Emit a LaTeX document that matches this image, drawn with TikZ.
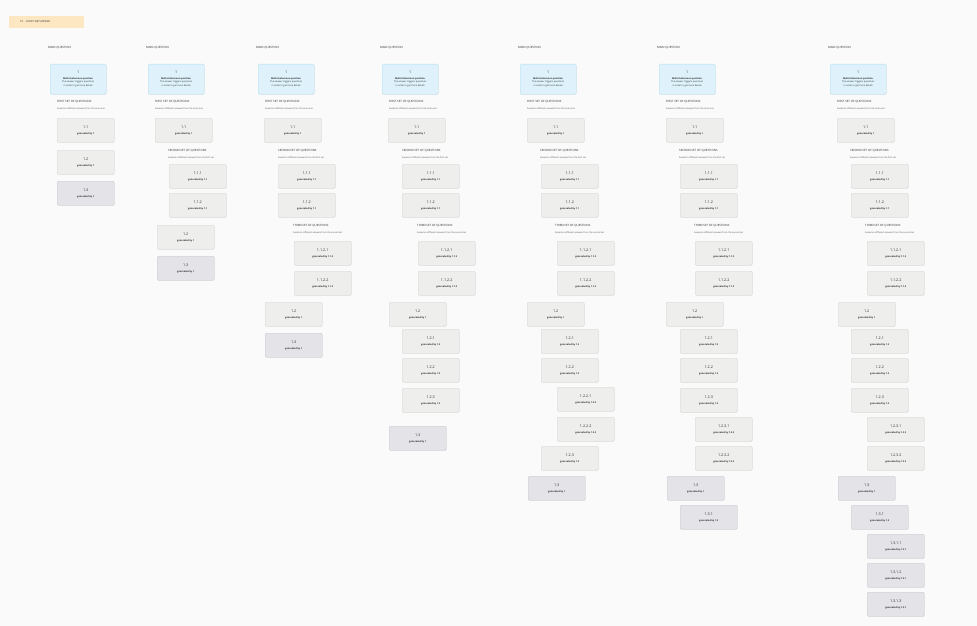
\documentclass[tikz,border=0pt]{standalone}
\usepackage{fontspec}
\setmainfont{Open Sans}
\usetikzlibrary{shadows}
\definecolor{bgc}{HTML}{FAFAFA}
\definecolor{tagc}{HTML}{FCE7C2}
\definecolor{bfill}{HTML}{DFF2FB}
\definecolor{bdraw}{HTML}{B3DDF0}
\definecolor{qfill}{HTML}{EEEEEC}
\definecolor{qdraw}{HTML}{D5D5D3}
\definecolor{dfill}{HTML}{E3E3E8}
\definecolor{ddraw}{HTML}{C8C8CE}
\definecolor{txt}{HTML}{2A2A2A}
\tikzset{
  qbase/.style={draw, rounded corners=1.2pt, minimum width=57pt, minimum height=24pt,
    anchor=north west, align=center, inner sep=0pt, line width=0.4pt, text=txt,
    font=\fontsize{2.3}{3}\selectfont,
    drop shadow={opacity=0.12, shadow xshift=0.3pt, shadow yshift=-0.6pt}},
  qgrey/.style={qbase, fill=qfill, draw=qdraw},
  qdark/.style={qbase, fill=dfill, draw=ddraw},
  qmain/.style={qbase, fill=bfill, draw=bdraw, minimum width=56pt, minimum height=30pt,
    font=\fontsize{2.3}{3.4}\selectfont, drop shadow={opacity=0}},
  headt/.style={anchor=west, inner sep=0pt, text=txt, font=\fontsize{2.9}{3.3}\selectfont},
  subt/.style={anchor=west, inner sep=0pt, text=txt!85, font=\fontsize{2.2}{2.6}\selectfont},
}
\newcommand\qq[6]{\node[#1] (#2) at (#3,#4) {{\fontsize{3.7}{4}\selectfont #5}\\[3pt]{\bfseries #6}};}
\newcommand\mainq[1]{%
  \node[headt] (#1mt) at (0,48) {MAIN QUESTION};
  \node[qmain] (#1m) at (2,64) {{\fontsize{3.6}{4}\selectfont 1}\\[2pt]{\bfseries Multichotomous question.}\\[0.5pt]The answer triggers questions\\[0.5pt]in order to get more details};
  \node[headt] (#1f) at (9,102) {FIRST SET OF QUESTIONS};
  \node[subt] (#1fs) at (9,109) {based on different answers from the main one};
}
\newcommand\secondq[1]{%
  \node[headt] (#1s) at (22,151) {SECOND SET OF QUESTIONS};
  \node[subt] (#1ss) at (22,158) {based on different answers from the first set};
}
\newcommand\thirdq[1]{%
  \node[headt] (#1t) at (37,226) {THIRD SET OF QUESTIONS};
  \node[subt] (#1ts) at (37,233) {based on different answers from the second set};
}
\begin{document}
\begin{tikzpicture}[x=1pt,y=-1pt]
\fill[bgc] (0,0) rectangle (977,626);
\useasboundingbox (0,0) rectangle (977,626);
% tag
\node[fill=tagc, minimum width=75pt, minimum height=12pt, anchor=north west, inner sep=0pt] (tag) at (9,16) {};
\node[headt, font=\fontsize{2.6}{3}\selectfont] (tagt) at (20,22) {10\enspace·\enspace HOW THEY APPEAR};
% column 1
\begin{scope}[xshift=48pt]
\mainq{a}
\qq{qgrey}{a11}{9}{118}{1.1}{generated by 1}
\qq{qgrey}{a12}{9}{150}{1.2}{generated by 1}
\qq{qdark}{a13}{9}{181}{1.3}{generated by 1}
\end{scope}
% column 2
\begin{scope}[xshift=146pt]
\mainq{b}
\qq{qgrey}{b11}{9}{118}{1.1}{generated by 1}
\secondq{b}
\qq{qgrey}{b111}{23}{164}{1.1.1}{generated by 1.1}
\qq{qgrey}{b112}{23}{193}{1.1.2}{generated by 1.1}
\qq{qgrey}{b12}{11}{225}{1.2}{generated by 1}
\qq{qdark}{b13}{11}{256}{1.3}{generated by 1}
\end{scope}
% column 3
\begin{scope}[xshift=256pt]
\mainq{c}
\qq{qgrey}{c11}{8}{118}{1.1}{generated by 1}
\secondq{c}
\qq{qgrey}{c111}{22}{164}{1.1.1}{generated by 1.1}
\qq{qgrey}{c112}{22}{193}{1.1.2}{generated by 1.1}
\thirdq{c}
\qq{qgrey}{c1121}{38}{241}{1.1.2.1}{generated by 1.1.2}
\qq{qgrey}{c1122}{38}{271}{1.1.2.2}{generated by 1.1.2}
\qq{qgrey}{c12}{9}{302}{1.2}{generated by 1}
\qq{qdark}{c13}{9}{333}{1.3}{generated by 1}
\end{scope}
% column 4
\begin{scope}[xshift=380pt]
\mainq{d}
\qq{qgrey}{d11}{8}{118}{1.1}{generated by 1}
\secondq{d}
\qq{qgrey}{d111}{22}{164}{1.1.1}{generated by 1.1}
\qq{qgrey}{d112}{22}{193}{1.1.2}{generated by 1.1}
\thirdq{d}
\qq{qgrey}{d1121}{38}{241}{1.1.2.1}{generated by 1.1.2}
\qq{qgrey}{d1122}{38}{271}{1.1.2.2}{generated by 1.1.2}
\qq{qgrey}{d12}{9}{302}{1.2}{generated by 1}
\qq{qgrey}{d121}{22}{329}{1.2.1}{generated by 1.2}
\qq{qgrey}{d122}{22}{358}{1.2.2}{generated by 1.2}
\qq{qgrey}{d123}{22}{388}{1.2.3}{generated by 1.2}
\qq{qdark}{d13}{9}{426}{1.3}{generated by 1}
\end{scope}
% column 5
\begin{scope}[xshift=518pt]
\mainq{e}
\qq{qgrey}{e11}{9}{118}{1.1}{generated by 1}
\secondq{e}
\qq{qgrey}{e111}{23}{164}{1.1.1}{generated by 1.1}
\qq{qgrey}{e112}{23}{193}{1.1.2}{generated by 1.1}
\thirdq{e}
\qq{qgrey}{e1121}{39}{241}{1.1.2.1}{generated by 1.1.2}
\qq{qgrey}{e1122}{39}{271}{1.1.2.2}{generated by 1.1.2}
\qq{qgrey}{e12}{9}{302}{1.2}{generated by 1}
\qq{qgrey}{e121}{23}{329}{1.2.1}{generated by 1.2}
\qq{qgrey}{e122}{23}{358}{1.2.2}{generated by 1.2}
\qq{qgrey}{e1221}{39}{387}{1.2.2.1}{generated by 1.2.2}
\qq{qgrey}{e1222}{39}{417}{1.2.2.2}{generated by 1.2.2}
\qq{qgrey}{e123}{23}{446}{1.2.3}{generated by 1.2}
\qq{qdark}{e13}{10}{476}{1.3}{generated by 1}
\end{scope}
% column 6
\begin{scope}[xshift=657pt]
\mainq{f}
\qq{qgrey}{f11}{9}{118}{1.1}{generated by 1}
\secondq{f}
\qq{qgrey}{f111}{23}{164}{1.1.1}{generated by 1.1}
\qq{qgrey}{f112}{23}{193}{1.1.2}{generated by 1.1}
\thirdq{f}
\qq{qgrey}{f1121}{38}{241}{1.1.2.1}{generated by 1.1.2}
\qq{qgrey}{f1122}{38}{271}{1.1.2.2}{generated by 1.1.2}
\qq{qgrey}{f12}{9}{302}{1.2}{generated by 1}
\qq{qgrey}{f121}{23}{329}{1.2.1}{generated by 1.2}
\qq{qgrey}{f122}{23}{358}{1.2.2}{generated by 1.2}
\qq{qgrey}{f123}{23}{388}{1.2.3}{generated by 1.2}
\qq{qgrey}{f1231}{38}{417}{1.2.3.1}{generated by 1.2.3}
\qq{qgrey}{f1232}{38}{446}{1.2.3.2}{generated by 1.2.3}
\qq{qdark}{f13}{10}{476}{1.3}{generated by 1}
\qq{qdark}{f131}{23}{505}{1.3.1}{generated by 1.3}
\end{scope}
% column 7
\begin{scope}[xshift=828pt]
\mainq{g}
\qq{qgrey}{g11}{9}{118}{1.1}{generated by 1}
\secondq{g}
\qq{qgrey}{g111}{23}{164}{1.1.1}{generated by 1.1}
\qq{qgrey}{g112}{23}{193}{1.1.2}{generated by 1.1}
\thirdq{g}
\qq{qgrey}{g1121}{39}{241}{1.1.2.1}{generated by 1.1.2}
\qq{qgrey}{g1122}{39}{271}{1.1.2.2}{generated by 1.1.2}
\qq{qgrey}{g12}{10}{302}{1.2}{generated by 1}
\qq{qgrey}{g121}{23}{329}{1.2.1}{generated by 1.2}
\qq{qgrey}{g122}{23}{358}{1.2.2}{generated by 1.2}
\qq{qgrey}{g123}{23}{388}{1.2.3}{generated by 1.2}
\qq{qgrey}{g1231}{39}{417}{1.2.3.1}{generated by 1.2.3}
\qq{qgrey}{g1232}{39}{446}{1.2.3.2}{generated by 1.2.3}
\qq{qdark}{g13}{10}{476}{1.3}{generated by 1}
\qq{qdark}{g131}{23}{505}{1.3.1}{generated by 1.3}
\qq{qdark}{g1311}{39}{534}{1.3.1.1}{generated by 1.3.1}
\qq{qdark}{g1312}{39}{563}{1.3.1.2}{generated by 1.3.1}
\qq{qdark}{g1313}{39}{592}{1.3.1.3}{generated by 1.3.1}
\end{scope}
\end{tikzpicture}
\end{document}
